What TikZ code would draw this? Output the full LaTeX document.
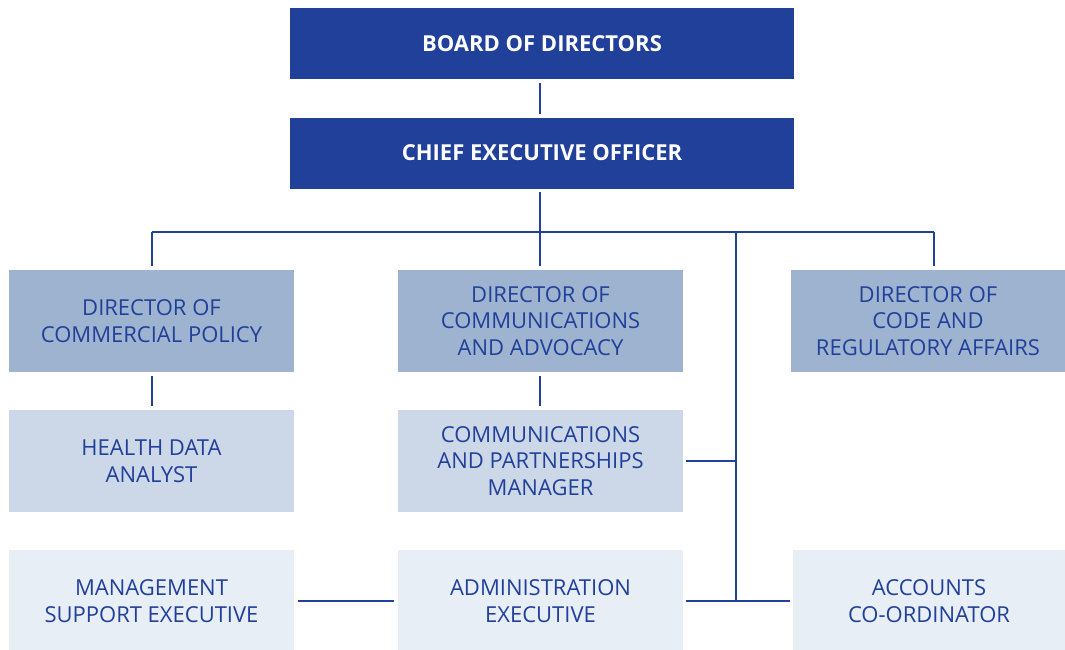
\documentclass[tikz,border=0pt]{standalone}
\usepackage{fontspec}
\setmainfont{Open Sans}
\definecolor{navy}{RGB}{33,64,154}
\definecolor{tierA}{RGB}{158,179,208}
\definecolor{tierB}{RGB}{204,216,231}
\definecolor{tierC}{RGB}{232,238,246}
\begin{document}
\begin{tikzpicture}[x=1pt,y=-1pt,
  box/.style={inner sep=0pt, align=center, text=navy, font=\fontsize{22}{26.5}\selectfont},
  topbox/.style={box, fill=navy, text=white, minimum width=504pt, minimum height=71pt, font=\bfseries\fontsize{22}{26.5}\selectfont},
  dirbox/.style={box, fill=tierA, minimum width=285pt, minimum height=102pt},
  midbox/.style={box, fill=tierB, minimum width=285pt, minimum height=102pt},
  lowbox/.style={box, fill=tierC, minimum width=285pt, minimum height=102pt},
  link/.style={draw=navy, line width=1.3pt}]
\useasboundingbox (0,0) rectangle (1065,649);
\node[topbox] (board) at (542,43.5) {BOARD OF DIRECTORS};
\node[topbox] (ceo) at (542,153) {CHIEF EXECUTIVE OFFICER};
\node[dirbox] (dcp) at (151.5,321) {DIRECTOR OF\\COMMERCIAL POLICY};
\node[dirbox] (dca) at (540.5,321) {DIRECTOR OF\\COMMUNICATIONS\\AND ADVOCACY};
\node[dirbox, minimum width=274pt] (dcr) at (928,321) {DIRECTOR OF\\CODE AND\\REGULATORY AFFAIRS};
\node[midbox] (hda) at (151.5,461) {HEALTH DATA\\ANALYST};
\node[midbox] (cpm) at (540.5,461) {COMMUNICATIONS\\AND PARTNERSHIPS\\MANAGER};
\node[lowbox] (mse) at (151.5,601) {MANAGEMENT\\SUPPORT EXECUTIVE};
\node[lowbox] (ae) at (540.5,601) {ADMINISTRATION\\EXECUTIVE};
\node[lowbox, minimum width=272pt] (ac) at (929,601) {ACCOUNTS\\CO-ORDINATOR};
\coordinate (bl) at (152,232);
\coordinate (bm) at (540,232);
\coordinate (bj) at (736,232);
\coordinate (br) at (934,232);
\coordinate (jm) at (736,461);
\coordinate (jl) at (736,601);
\draw[link] ([yshift=-4pt]board.south -| bm) -- ([yshift=3pt]ceo.north -| bm);
\draw[link] ([yshift=-3pt]ceo.south -| bm) -- (bm);
\draw[link] (bl) -- (br);
\draw[link] (bl) -- ([yshift=4pt]dcp.north -| bl);
\draw[link] (bm) -- ([yshift=4pt]dca.north -| bm);
\draw[link] (br) -- ([yshift=4pt]dcr.north -| br);
\draw[link] (bj) -- (jl);
\draw[link] ([yshift=-4pt]dcp.south -| bl) -- ([yshift=4pt]hda.north -| bl);
\draw[link] ([yshift=-4pt]dca.south -| bm) -- ([yshift=4pt]cpm.north -| bm);
\draw[link] ([xshift=3pt]cpm.east |- jm) -- (jm);
\draw[link] ([xshift=3pt]ae.east |- jl) -- ([xshift=-3pt]ac.west |- jl);
\draw[link] ([xshift=4pt]mse.east |- jl) -- ([xshift=-4pt]ae.west |- jl);
\end{tikzpicture}
\end{document}
